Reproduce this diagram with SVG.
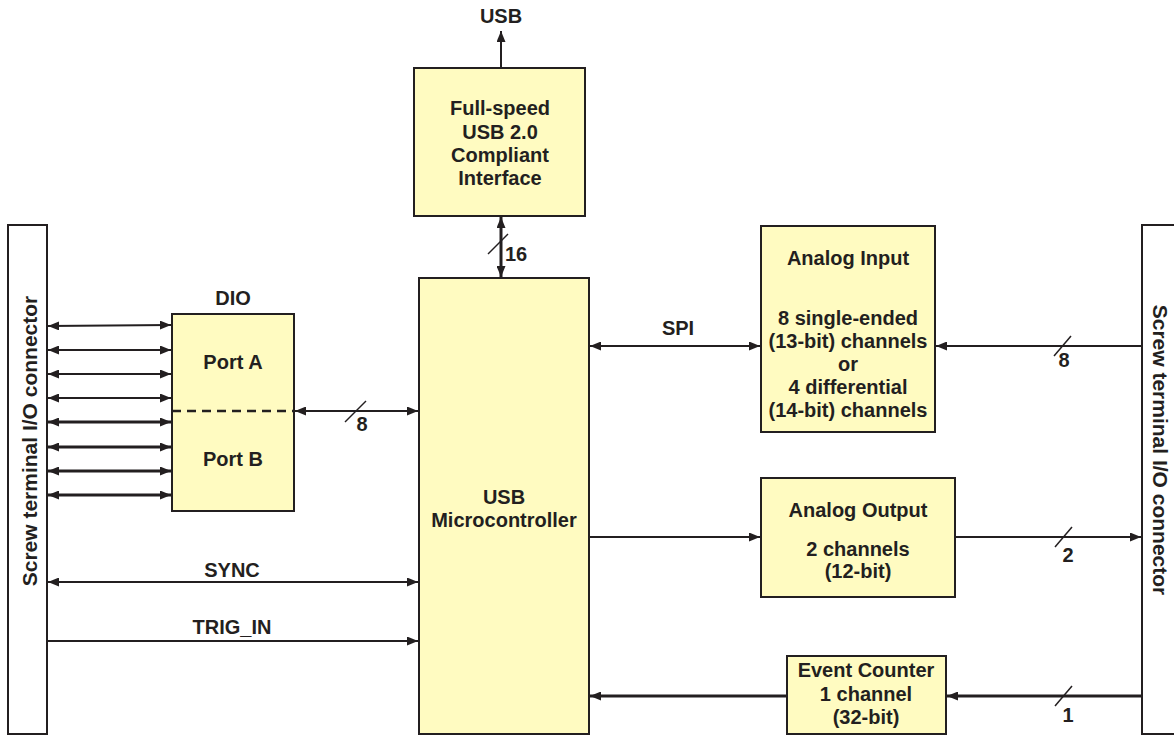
<svg xmlns="http://www.w3.org/2000/svg" width="1174" height="736" viewBox="0 0 1174 736">
<style>
.box{fill:#FFFBC1;stroke:#231F20;stroke-width:2}
.conn{fill:#FFFFFF;stroke:#231F20;stroke-width:2}
.t{font-family:"Liberation Sans",Arial,sans-serif;font-weight:bold;font-size:20px;fill:#231F20;text-anchor:middle}
.tc{font-size:21px}
.w{stroke:#231F20;stroke-width:2;fill:none}
.wt{stroke:#231F20;stroke-width:3;fill:none}
.sl{stroke:#231F20;stroke-width:1.5;fill:none}
.dash{stroke:#231F20;stroke-width:2.5;stroke-dasharray:9,6;fill:none}
</style>
<defs>
<marker id="ah" markerWidth="11" markerHeight="9" refX="11" refY="4.5" orient="auto-start-reverse" markerUnits="userSpaceOnUse">
<path d="M0,0 L11,4.5 L0,9 z" fill="#231F20"/>
</marker>
</defs>
<rect width="1174" height="736" fill="#FFFFFF"/>

<g id="left-connector">
<rect class="conn" x="8" y="225" width="39" height="509"/>
<text class="t tc" transform="translate(37,441) rotate(-90)">Screw terminal I/O connector</text>
</g>

<g id="right-connector">
<rect class="conn" x="1142" y="225" width="40" height="509"/>
<text class="t tc" transform="translate(1153,450) rotate(90)">Screw terminal I/O connector</text>
</g>

<g id="usb-label">
<text class="t" x="501" y="23">USB</text>
</g>

<g id="usb-interface">
<rect class="box" x="414" y="68" width="171" height="148"/>
<text class="t" x="500" y="115">Full-speed</text>
<text class="t" x="500" y="139">USB 2.0</text>
<text class="t" x="500" y="162">Compliant</text>
<text class="t" x="500" y="185">Interface</text>
</g>

<g id="dio">
<text class="t" x="233" y="305">DIO</text>
<rect class="box" x="172" y="314" width="122" height="197"/>
<line class="dash" x1="172" y1="411" x2="294" y2="411"/>
<text class="t" x="233" y="369">Port A</text>
<text class="t" x="233" y="466">Port B</text>
</g>

<g id="microcontroller">
<rect class="box" x="419" y="278" width="170" height="456"/>
<text class="t" x="504" y="504">USB</text>
<text class="t" x="504" y="527">Microcontroller</text>
</g>

<g id="analog-input">
<rect class="box" x="761" y="226" width="174" height="206"/>
<text class="t" x="848" y="265">Analog Input</text>
<text class="t" x="848" y="325">8 single-ended</text>
<text class="t" x="848" y="348">(13-bit) channels</text>
<text class="t" x="848" y="371">or</text>
<text class="t" x="848" y="394">4 differential</text>
<text class="t" x="848" y="417">(14-bit) channels</text>
</g>

<g id="analog-output">
<rect class="box" x="761" y="478" width="194" height="119"/>
<text class="t" x="858" y="517">Analog Output</text>
<text class="t" x="858" y="556">2 channels</text>
<text class="t" x="858" y="578">(12-bit)</text>
</g>

<g id="event-counter">
<rect class="box" x="787" y="656" width="159" height="78"/>
<text class="t" x="866" y="677">Event Counter</text>
<text class="t" x="866" y="701">1 channel</text>
<text class="t" x="866" y="724">(32-bit)</text>
</g>

<g id="connectors">
<line class="w" x1="501" y1="68" x2="501" y2="31" marker-end="url(#ah)"/>
<line class="wt" x1="501" y1="217" x2="501" y2="277" marker-start="url(#ah)" marker-end="url(#ah)"/>
<line class="sl" x1="488" y1="254" x2="508" y2="234"/>
<text class="t" x="516" y="261">16</text>

<line class="w" x1="48" y1="326" x2="171" y2="325" marker-start="url(#ah)" marker-end="url(#ah)"/>
<line class="w" x1="48" y1="350" x2="171" y2="350" marker-start="url(#ah)" marker-end="url(#ah)"/>
<line class="w" x1="48" y1="374" x2="171" y2="374" marker-start="url(#ah)" marker-end="url(#ah)"/>
<line class="w" x1="48" y1="398" x2="171" y2="398" marker-start="url(#ah)" marker-end="url(#ah)"/>
<line class="wt" x1="48" y1="422" x2="171" y2="422" marker-start="url(#ah)" marker-end="url(#ah)"/>
<line class="wt" x1="48" y1="447" x2="171" y2="447" marker-start="url(#ah)" marker-end="url(#ah)"/>
<line class="wt" x1="48" y1="471" x2="171" y2="471" marker-start="url(#ah)" marker-end="url(#ah)"/>
<line class="wt" x1="48" y1="495" x2="171" y2="495" marker-start="url(#ah)" marker-end="url(#ah)"/>

<line class="w" x1="295" y1="411" x2="418" y2="411" marker-start="url(#ah)" marker-end="url(#ah)"/>
<line class="sl" x1="345" y1="422" x2="366" y2="401"/>
<text class="t" x="362" y="431">8</text>

<line class="w" x1="48" y1="582" x2="418" y2="582" marker-start="url(#ah)" marker-end="url(#ah)"/>
<text class="t" x="232" y="577">SYNC</text>
<line class="w" x1="48" y1="641" x2="418" y2="641" marker-end="url(#ah)"/>
<text class="t" x="232" y="634">TRIG_IN</text>

<line class="w" x1="590" y1="346" x2="760" y2="346" marker-start="url(#ah)" marker-end="url(#ah)"/>
<text class="t" x="678" y="335">SPI</text>

<line class="w" x1="1141" y1="346" x2="936" y2="346" marker-end="url(#ah)"/>
<line class="sl" x1="1054" y1="356" x2="1071" y2="336"/>
<text class="t" x="1064" y="367">8</text>

<line class="w" x1="590" y1="537" x2="760" y2="537" marker-end="url(#ah)"/>
<line class="w" x1="956" y1="537" x2="1141" y2="537" marker-end="url(#ah)"/>
<line class="sl" x1="1055" y1="547" x2="1072" y2="527"/>
<text class="t" x="1068" y="562">2</text>

<line class="wt" x1="1141" y1="696" x2="947" y2="696" marker-end="url(#ah)"/>
<line class="sl" x1="1055" y1="706" x2="1072" y2="686"/>
<text class="t" x="1068" y="722">1</text>
<line class="wt" x1="786" y1="696" x2="590" y2="696" marker-end="url(#ah)"/>
</g>
</svg>
